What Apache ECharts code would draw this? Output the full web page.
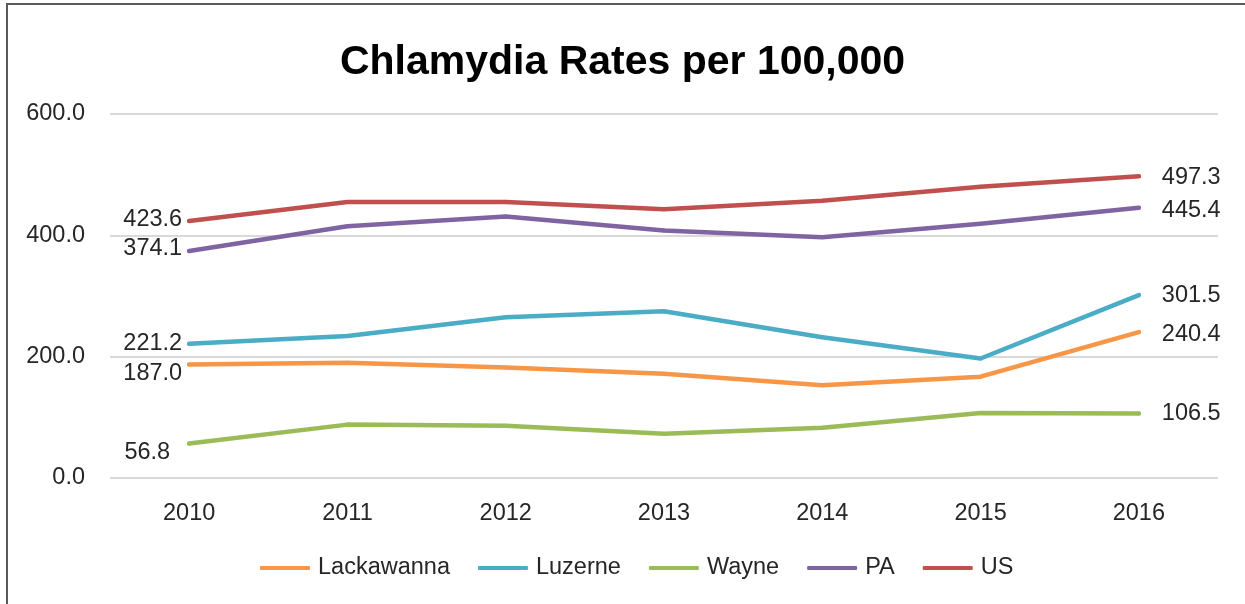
<!DOCTYPE html>
<html>
<head>
<meta charset="utf-8">
<script src="https://cdn.jsdelivr.net/npm/echarts@6/dist/echarts.min.js"></script>
<style>
  html, body { margin: 0; padding: 0; background: #fff; }
  #frame { position: absolute; left: 6px; top: 3px; width: 1239px; height: 601px;
           border-left: 2px solid #595959; border-top: 2px solid #595959; }
  #main { position: absolute; left: 0; top: 0; width: 1245px; height: 604px; }
</style>
</head>
<body>
<div id="frame"></div>
<div id="main"></div>
<script>
// data
const years = ['2010', '2011', '2012', '2013', '2014', '2015', '2016']
const lackawanna = [187.0, 190, 182, 172, 153, 167, 240.4]
const luzerne = [221.2, 234, 265, 275, 232, 197, 301.5]
const wayne = [56.8, 88, 86, 73, 83, 107, 106.5]
const pa = [374.1, 415, 431, 408, 397, 419, 445.4]
const us = [423.6, 455, 455, 443, 457, 480, 497.3]

const font = 'Liberation Sans'
const fs = 23.5

// labels only on first / last point (Excel put some of them a bit lower)
function makeData (vals, firstOffset, lastOffset) {
  return vals.map((v, i) => {
    if (i === 0) {
      return { value: v, label: { show: true, position: 'left', distance: 5, offset: firstOffset } }
    }
    if (i === vals.length - 1) {
      return { value: v, label: { show: true, position: 'right', distance: 21, offset: lastOffset } }
    }
    return v
  })
}

function line (name, vals, color, firstOffset, lastOffset) {
  return {
    name: name,
    type: 'line',
    data: makeData(vals, firstOffset, lastOffset),
    // tiny symbol hidden inside the line, needed so the labels get drawn
    symbol: 'circle',
    symbolSize: 4,
    showSymbol: true,
    smooth: false,
    lineStyle: { color: color, width: 4.5, cap: 'round', join: 'round' },
    itemStyle: { color: color },
    label: {
      show: false,
      formatter: p => p.value.toFixed(1),
      color: '#262626',
      fontFamily: font,
      fontSize: fs
    }
  }
}

const chart = echarts.init(document.getElementById('main'))
chart.setOption({
  animation: false,
  title: {
    text: 'Chlamydia Rates per 100,000',
    left: 'center',
    top: 37,
    textStyle: { fontFamily: font, fontSize: 41, fontWeight: 'bold', color: '#000' }
  },
  legend: {
    bottom: 19,
    left: 255,
    icon: 'roundRect',
    itemWidth: 50,
    itemHeight: 4,
    itemGap: 28,
    textStyle: { fontFamily: font, fontSize: fs, color: '#262626', padding: [0, 0, 0, 3] },
    data: ['Lackawanna', 'Luzerne', 'Wayne', 'PA', 'US']
  },
  grid: { left: 110, right: 27, top: 114, bottom: 126, containLabel: false },
  xAxis: {
    type: 'category',
    data: years,
    boundaryGap: true,
    axisLine: { show: false },
    axisTick: { show: false },
    axisLabel: { margin: 24, fontFamily: font, fontSize: fs, color: '#262626' }
  },
  yAxis: {
    type: 'value',
    min: 0,
    max: 600,
    interval: 200,
    axisLine: { show: false },
    axisTick: { show: false },
    axisLabel: { margin: 25, fontFamily: font, fontSize: fs, color: '#262626', formatter: v => v.toFixed(1) },
    splitLine: { lineStyle: { color: '#d9d9d9', width: 2 } }
  },
  series: [
    line('Lackawanna', lackawanna, '#F79646', [0, 9], [0, 2]),
    line('Luzerne', luzerne, '#4BACC6', [0, 0], [0, 0]),
    line('Wayne', wayne, '#9BBB59', [-12, 9], [0, 0]),
    line('PA', pa, '#8064A2', [0, -3], [0, 3]),
    line('US', us, '#C0504D', [0, -2], [0, 1])
  ]
})
</script>
</body>
</html>
